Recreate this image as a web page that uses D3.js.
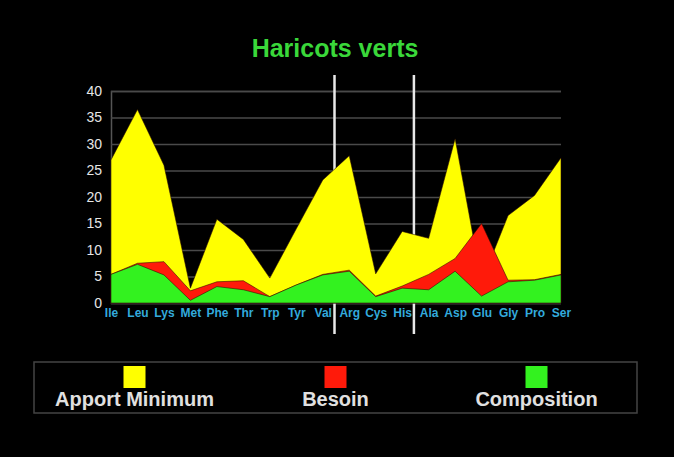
<!DOCTYPE html>
<html>
<head>
<meta charset="utf-8">
<script src="https://cdnjs.cloudflare.com/ajax/libs/d3/7.8.5/d3.min.js"></script>
<style>
    body { margin: 0; background: #000; }
    #chart text { font-family: "Liberation Sans", Arial, sans-serif; }
</style>
</head>
<body>
<div id="chart"></div>
<script>
// amino acids (x categories)
let categories = ["Ile", "Leu", "Lys", "Met", "Phe", "Thr", "Trp", "Tyr", "Val",
    "Arg", "Cys", "His", "Ala", "Asp", "Glu", "Gly", "Pro", "Ser"];

// series values
let apportMinimum = [27, 36.5, 26, 2.8, 15.8, 12, 4.7, 14, 23.2, 27.8, 5.5, 13.5, 12.2, 31, 4, 16.5, 20.3, 27.4];
let besoin        = [5.4, 7.5, 7.8, 2.3, 4, 4.2, 1.2, 3.4, 5.4, 6.2, 1.3, 3.2, 5.4, 8.4, 15, 4.3, 4.4, 5.4];
let composition   = [5.4, 7.3, 5.3, 0.5, 3.1, 2.5, 1.2, 3.4, 5.3, 6.0, 1.2, 2.8, 2.5, 6.0, 1.3, 4.0, 4.3, 5.3];

let yTicks = [0, 5, 10, 15, 20, 25, 30, 35, 40];

// group separators (after Val, after His)
let separators = [["Val", "Arg"], ["His", "Ala"]];

let seriesNames = ["Apport Minimum", "Besoin", "Composition"];
let seriesColors = ["#ffff00", "#ff1a0a", "#33f21f"];

let margin = { top: 91, right: 113, bottom: 154, left: 111 };
let width = 674 - margin.left - margin.right,
    height = 457 - margin.top - margin.bottom;

let svgRoot = d3.select("#chart").append("svg")
    .attr("width", 674)
    .attr("height", 457)
    .style("background", "#000");

// title
svgRoot.append("text")
    .attr("x", 335)
    .attr("y", 57)
    .attr("text-anchor", "middle")
    .attr("fill", "#3ad83a")
    .style("font-size", "25px")
    .style("font-weight", "bold")
    .text("Haricots verts");

let svg = svgRoot.append("g")
    .attr("transform", "translate(" + margin.left + "," + margin.top + ")");

// scales
let x = d3.scalePoint()
    .domain(categories)
    .range([0, width]);

let y = d3.scaleLinear()
    .domain([0, 40])
    .range([height, 0]);

// y axis + gridlines
let yAxis = d3.axisLeft(y)
    .tickValues(yTicks)
    .tickSize(-width)
    .tickPadding(9);

let yg = svg.append("g")
    .attr("class", "y-axis axis")
    .call(yAxis);

yg.select(".domain").attr("stroke", "#555").attr("stroke-width", 1.5);
yg.selectAll(".tick line").attr("stroke", "#4a4a4a").attr("stroke-width", 1.5);
yg.selectAll(".tick text")
    .attr("fill", "#e6e6e6")
    .style("font-size", "14px");

// white separator lines
svg.selectAll(".sep")
    .data(separators)
    .enter().append("line")
    .attr("class", "sep")
    .attr("x1", d => (x(d[0]) + x(d[1])) / 2 - 1.5)
    .attr("x2", d => (x(d[0]) + x(d[1])) / 2 - 1.5)
    .attr("y1", -16)
    .attr("y2", height + 31)
    .attr("stroke", "#e8e8e8")
    .attr("stroke-width", 2.5);

// areas
let allSeries = [apportMinimum, besoin, composition];

let area = d3.area()
    .x((d, i) => x(categories[i]))
    .y0(y(0))
    .y1(d => y(d));

svg.selectAll(".area")
    .data(allSeries)
    .enter().append("path")
    .attr("class", "area")
    .attr("d", d => area(d))
    .attr("fill", (d, i) => seriesColors[i])
    .attr("stroke", "rgba(40,10,0,0.55)")
    .attr("stroke-width", 1)
    .attr("stroke-linejoin", "round");

// x axis labels
let xAxis = d3.axisBottom(x)
    .tickSize(0)
    .tickPadding(5);

let xg = svg.append("g")
    .attr("class", "x-axis axis")
    .attr("transform", "translate(0," + height + ")")
    .call(xAxis);

xg.select(".domain").remove();
xg.selectAll(".tick text")
    .attr("fill", "#33aadc")
    .style("font-size", "12px")
    .style("font-weight", "bold");

// legend
let legendBox = { x: 34, y: 362, w: 603, h: 51 };

svgRoot.append("rect")
    .attr("x", legendBox.x)
    .attr("y", legendBox.y)
    .attr("width", legendBox.w)
    .attr("height", legendBox.h)
    .attr("fill", "none")
    .attr("stroke", "#444")
    .attr("stroke-width", 1.5);

let legendX = d3.scaleBand()
    .domain(seriesNames)
    .range([legendBox.x, legendBox.x + legendBox.w]);

let legend = svgRoot.selectAll(".legend-item")
    .data(seriesNames)
    .enter().append("g")
    .attr("class", "legend-item")
    .attr("transform", d => "translate(" + (legendX(d) + legendX.bandwidth() / 2) + ",0)");

legend.append("rect")
    .attr("x", -11)
    .attr("y", 366)
    .attr("width", 22)
    .attr("height", 22)
    .attr("fill", (d, i) => seriesColors[i]);

legend.append("text")
    .attr("y", 406)
    .attr("text-anchor", "middle")
    .attr("fill", "#e0e0e0")
    .style("font-size", "20px")
    .style("font-weight", "bold")
    .text(d => d);
</script>
</body>
</html>
